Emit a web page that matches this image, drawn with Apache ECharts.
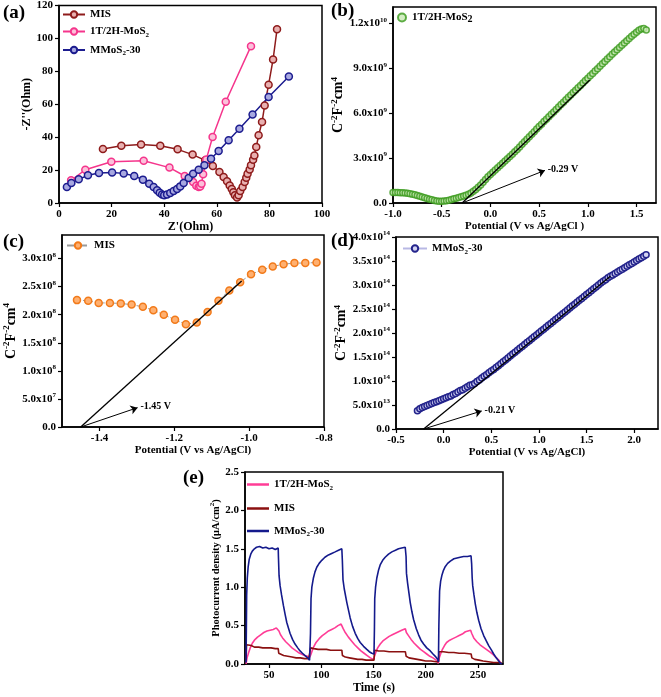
<!DOCTYPE html>
<html><head><meta charset="utf-8">
<script src="https://cdn.jsdelivr.net/npm/echarts@6/dist/echarts.min.js"></script>
<style>html,body{margin:0;padding:0;background:#fff}#c{width:661px;height:697px}</style>
</head><body><div id="c"></div>
<script>
// ---------- (a) Nyquist plot ----------
const misZre = [16.7,23.7,31.2,38.5,45.1,50.8,55.6,58.5,61.0,62.6,63.9,64.9,65.7,66.3,66.9,67.7,68.3,68.9,69.8,70.6,71.2,71.7,72.5,73.0,73.8,74.3,75.0,75.9,77.2,78.2,79.7,81.4,82.9];
const misZim = [32.8,34.8,35.6,34.8,32.6,29.4,25.9,22.5,18.8,15.8,13.2,10.7,8.5,6.5,4.7,3.4,4.7,7.3,9.7,12.8,15.4,17.8,20.4,22.9,26.3,28.9,34.0,41.1,49.2,59.3,71.9,87.2,105.5];
const mos1Zre = [4.6,10.0,19.9,32.2,42.0,47.8,51.0,52.2,53.1,53.7,54.2,54.8,56.0,58.4,63.4,73.0];
const mos1Zim = [13.8,20.2,25.1,25.7,21.5,16.4,12.8,10.5,9.7,10.1,11.7,17.4,26.5,40.1,61.5,95.3];
const mm30Zre = [3.0,4.7,7.5,11.0,15.2,20.2,24.6,28.6,31.9,34.3,36.0,37.3,38.3,39.2,40.0,41.1,42.3,43.6,44.9,46.1,47.4,49.3,51.0,53.1,55.3,57.8,60.7,64.5,68.6,73.6,79.7,87.4];
const mm30Zim = [9.7,12.1,14.4,16.8,18.2,18.6,18.0,16.4,14.2,11.7,9.7,7.7,6.3,5.1,4.7,5.1,6.1,7.3,8.5,10.1,12.1,15.2,17.8,20.2,22.9,26.9,31.6,38.1,45.1,53.8,64.4,76.9];
const aTicks = [0,20,40,60,80,100];
const aYTicks = [0,20,40,60,80,100,120];

// ---------- (b) Mott-Schottky 1T/2H-MoS2 (values x1e9) ----------
const bPot = [-1.000,-0.975,-0.950,-0.925,-0.900,-0.875,-0.850,-0.825,-0.800,-0.775,-0.750,-0.725,-0.700,-0.675,-0.650,-0.625,-0.600,-0.575,-0.550,-0.525,-0.500,-0.475,-0.450,-0.425,-0.400,-0.375,-0.350,-0.325,-0.300,-0.275,-0.250,-0.225,-0.200,-0.175,-0.150,-0.125,-0.100,-0.075,-0.050,-0.025,0.000,0.025,0.050,0.075,0.100,0.125,0.150,0.175,0.200,0.225,0.250,0.275,0.300,0.325,0.350,0.375,0.400,0.425,0.450,0.475,0.500,0.525,0.550,0.575,0.600,0.625,0.650,0.675,0.700,0.725,0.750,0.775,0.800,0.825,0.850,0.875,0.900,0.925,0.950,0.975,1.000,1.025,1.050,1.075,1.100,1.125,1.150,1.175,1.200,1.225,1.250,1.275,1.300,1.325,1.350,1.375,1.400,1.425,1.450,1.475,1.500,1.525,1.550,1.575,1.600];
const bCsc = [0.70,0.70,0.70,0.69,0.68,0.67,0.65,0.62,0.59,0.55,0.50,0.45,0.40,0.35,0.30,0.25,0.21,0.17,0.14,0.12,
0.12,0.13,0.15,0.19,0.23,0.28,0.32,0.37,0.42,0.46,
0.51,0.58,0.67,0.78,0.91,1.05,1.21,1.39,1.57,1.75,
1.90,2.05,2.20,2.35,2.50,2.65,2.80,2.95,3.10,3.26,
3.42,3.58,3.75,3.92,4.09,4.26,4.43,4.60,4.77,4.94,
5.11,5.27,5.44,5.60,5.77,5.93,6.09,6.25,6.42,6.58,
6.74,6.90,7.06,7.22,7.38,7.54,7.70,7.86,8.02,8.18,
8.34,8.50,8.66,8.82,8.98,9.14,9.30,9.46,9.62,9.78,
9.95,10.10,10.25,10.40,10.55,10.70,10.85,11.00,11.14,11.28,
11.42,11.54,11.63,11.67,11.56];
const bFitPot = [-0.29, 1.02];
const bFitCsc = [0, 8.22];
const bArrow = [[-0.29, 0], [0.56, 2.18]];
const bXTicks = [-1.0,-0.5,0.0,0.5,1.0,1.5];
const bYTicks = [0, 3e9, 6e9, 9e9, 1.2e10];

// ---------- (c) Mott-Schottky MIS (values x1e8) ----------
const cPot = [-1.460,-1.430,-1.402,-1.372,-1.343,-1.314,-1.284,-1.256,-1.228,-1.198,-1.169,-1.140,-1.111,-1.082,-1.053,-1.024,-0.995,-0.965,-0.937,-0.908,-0.879,-0.850,-0.820];
const cCsc = [2.26,2.25,2.21,2.21,2.20,2.18,2.14,2.08,2.00,1.91,1.83,1.86,2.05,2.25,2.43,2.58,2.72,2.80,2.86,2.90,2.92,2.92,2.93];
const cFitPot = [-1.45, -1.02];
const cFitCsc = [0, 2.60];
const cArrow = [[-1.45, 0], [-1.298, 0.345]];
const cXTicks = [-1.4,-1.2,-1.0,-0.8];
const cYTicks = [0,5e7,1e8,1.5e8,2e8,2.5e8,3e8];

// ---------- (d) Mott-Schottky MMoS2-30 (values x1e14) ----------
const dPot = [-0.275,-0.250,-0.225,-0.200,-0.175,-0.150,-0.125,-0.100,-0.075,-0.050,-0.025,0.000,0.025,0.050,0.075,0.100,0.125,0.150,0.175,0.200,0.225,0.250,0.275,0.300,0.325,0.350,0.375,0.400,0.425,0.450,0.475,0.500,0.525,0.550,0.575,0.600,0.625,0.650,0.675,0.700,0.725,0.750,0.775,0.800,0.825,0.850,0.875,0.900,0.925,0.950,0.975,1.000,1.025,1.050,1.075,1.100,1.125,1.150,1.175,1.200,1.225,1.250,1.275,1.300,1.325,1.350,1.375,1.400,1.425,1.450,1.475,1.500,1.525,1.550,1.575,1.600,1.625,1.650,1.675,1.700,1.725,1.750,1.775,1.800,1.825,1.850,1.875,1.900,1.925,1.950,1.975,2.000,2.025,2.050,2.075,2.100,2.125];
const dCsc = [0.38,0.42,0.45,0.47,0.49,0.51,0.53,0.55,0.57,0.59,
0.61,0.63,0.65,0.67,0.69,0.72,0.74,0.77,0.80,0.82,
0.85,0.88,0.91,0.92,0.95,0.99,1.02,1.06,1.10,1.13,
1.17,1.21,1.24,1.28,1.32,1.36,1.40,1.44,1.48,1.52,
1.56,1.60,1.64,1.68,1.72,1.76,1.80,1.84,1.88,1.92,
1.96,2.00,2.04,2.08,2.12,2.16,2.20,2.24,2.28,2.32,
2.36,2.40,2.44,2.48,2.52,2.56,2.60,2.64,2.68,2.72,
2.76,2.80,2.84,2.88,2.92,2.96,3.00,3.04,3.08,3.11,
3.15,3.18,3.21,3.24,3.27,3.30,3.33,3.36,3.39,3.42,
3.45,3.48,3.51,3.54,3.57,3.60,3.63];
const dFitPot = [-0.21, 1.75];
const dFitCsc = [0, 3.18];
const dArrow = [[-0.21, 0], [0.40, 0.376]];
const dXTicks = [-0.5,0.0,0.5,1.0,1.5,2.0];
const dYTicks = [0,5e13,1e14,1.5e14,2e14,2.5e14,3e14,3.5e14,4e14];

// ---------- (e) Photocurrent ----------
const eMMTime = [28.0,28.3,28.6,29.2,30.0,31.0,32.5,34.0,36.0,38.0,41.0,44.0,47.0,50.0,53.0,56.0,58.8,59.0,59.6,60.6,62.0,63.8,65.5,67.0,70.1,72.5,74.9,77.5,79.7,82.0,84.5,87.0,88.8,89.3,89.7,90.2,91.0,92.5,94.0,95.7,98.0,100.5,103.5,106.9,110.0,113.3,116.5,119.7,120.2,120.8,122.0,124.5,127.7,130.0,132.5,135.0,137.3,140.5,143.6,146.0,148.4,150.5,150.9,151.2,152.0,153.2,154.8,156.4,158.8,161.2,164.4,167.6,171.0,174.0,177.0,180.4,181.2,181.6,182.6,184.0,185.2,186.8,188.4,191.0,193.2,195.5,198.0,201.0,204.4,207.0,209.2,211.4,212.2,212.6,213.3,214.3,215.6,217.0,218.8,221.0,223.6,227.0,230.0,233.0,236.3,240.0,243.4,244.0,244.5,245.0,246.2,247.5,249.0,250.7,253.0,255.5,258.0,260.3,263.0,265.1,267.5,269.9,271.5,273.0];
const eMMCur = [0.02,0.45,0.90,1.12,1.26,1.36,1.43,1.47,1.50,1.52,1.53,1.51,1.52,1.50,1.51,1.49,1.51,1.40,1.15,1.02,0.90,0.76,0.64,0.54,0.40,0.32,0.26,0.21,0.17,0.14,0.11,0.08,0.05,0.04,0.40,0.85,1.00,1.12,1.20,1.26,1.31,1.35,1.39,1.42,1.44,1.46,1.48,1.50,1.35,1.10,0.98,0.80,0.60,0.49,0.40,0.33,0.28,0.23,0.19,0.16,0.14,0.13,0.45,0.85,1.00,1.12,1.22,1.29,1.35,1.39,1.43,1.46,1.48,1.50,1.51,1.52,1.40,1.18,1.06,0.92,0.80,0.68,0.58,0.46,0.38,0.31,0.26,0.21,0.17,0.13,0.10,0.06,0.03,0.50,0.95,1.08,1.16,1.22,1.27,1.31,1.34,1.37,1.38,1.39,1.40,1.40,1.41,1.30,1.12,1.02,0.90,0.78,0.67,0.57,0.46,0.37,0.30,0.24,0.18,0.13,0.08,0.04,0.01,0.00];
const eMoTime = [28.0,29.0,30.5,32.0,34.0,36.0,39.0,42.0,45.0,48.0,51.0,54.0,57.0,58.6,59.5,61.0,63.0,66.0,69.0,72.0,75.0,78.0,81.0,84.0,87.0,89.0,90.0,91.5,93.0,95.0,98.0,101.0,104.0,107.0,110.0,113.0,116.0,119.0,120.0,121.0,123.0,126.0,129.0,132.0,135.0,138.0,141.0,144.0,147.0,150.0,151.0,152.5,154.0,156.5,159.0,162.0,165.0,168.0,171.0,174.0,177.0,180.5,181.5,183.5,186.0,189.0,192.0,195.0,198.0,201.0,204.0,207.0,210.0,212.0,213.0,214.5,216.0,218.0,220.0,223.0,226.0,229.0,232.0,235.0,238.0,243.0,244.0,246.0,249.0,252.0,255.0,258.0,261.0,264.0,267.0,270.0,272.5];
const eMoCur = [0.00,0.08,0.15,0.21,0.27,0.31,0.35,0.38,0.41,0.43,0.44,0.45,0.47,0.48,0.43,0.38,0.34,0.29,0.25,0.21,0.18,0.15,0.13,0.11,0.10,0.09,0.12,0.18,0.23,0.28,0.33,0.37,0.40,0.43,0.45,0.47,0.50,0.52,0.53,0.46,0.41,0.35,0.30,0.25,0.21,0.17,0.14,0.11,0.08,0.06,0.10,0.16,0.21,0.26,0.30,0.33,0.36,0.38,0.40,0.42,0.44,0.46,0.41,0.37,0.32,0.27,0.23,0.19,0.16,0.13,0.10,0.08,0.05,0.01,0.08,0.14,0.19,0.24,0.28,0.31,0.33,0.35,0.37,0.39,0.42,0.44,0.40,0.34,0.29,0.25,0.22,0.19,0.16,0.13,0.09,0.05,0.00];
const eMisTime = [28.0,28.5,30.0,33.0,36.0,40.0,44.0,48.0,52.0,56.0,58.8,59.3,61.0,64.0,68.0,72.0,76.0,80.0,84.0,88.0,89.3,89.8,93.0,97.0,101.0,105.0,109.0,113.0,117.0,119.7,120.3,123.0,127.0,131.0,135.0,139.0,143.0,147.0,150.5,151.0,155.0,160.0,165.0,170.0,175.0,180.5,181.3,184.0,188.0,192.0,196.0,200.0,205.0,210.0,212.2,212.7,217.0,222.0,227.0,232.0,237.0,243.5,244.2,247.0,251.0,255.0,260.0,265.0,270.0,273.0];
const eMisCur = [0.05,0.25,0.23,0.24,0.22,0.22,0.21,0.21,0.21,0.20,0.20,0.14,0.12,0.11,0.10,0.09,0.08,0.08,0.07,0.07,0.06,0.21,0.20,0.19,0.19,0.19,0.18,0.18,0.18,0.18,0.11,0.09,0.08,0.07,0.06,0.06,0.05,0.05,0.05,0.18,0.17,0.17,0.16,0.16,0.16,0.16,0.10,0.08,0.07,0.06,0.05,0.04,0.04,0.03,0.03,0.16,0.16,0.15,0.15,0.14,0.14,0.13,0.08,0.06,0.05,0.04,0.03,0.02,0.02,0.01];
const eXTicks = [50,100,150,200,250];
const eYTicks = [0,0.5,1.0,1.5,2.0,2.5];

// ---------- helpers ----------
const F = '"Liberation Serif","Times New Roman",serif';
const zip = (xs, ys, k) => xs.map((x, i) => [x, ys[i] * (k || 1)]);
const sup = {fontFamily:F,fontWeight:'bold',fontSize:7,color:'#000',verticalAlign:'top'};
const base = {fontFamily:F,fontWeight:'bold',fontSize:11,color:'#000',lineHeight:14};
function sci(v){
  if (v === 0) return '{m|0.0}';
  const e = Math.floor(Math.log10(v) + 1e-9);
  const m = v / Math.pow(10, e);
  return '{m|' + m.toFixed(1) + 'x10}{e|' + e + '}';
}
const nameRich = {
  n:{fontFamily:F,fontWeight:'bold',fontSize:14,color:'#000',lineHeight:18},
  s:{fontFamily:F,fontWeight:'bold',fontSize:9,color:'#000',verticalAlign:'top'}
};
const nameRichSmall = {
  n:{fontFamily:F,fontWeight:'bold',fontSize:10.5,color:'#000',lineHeight:14},
  s:{fontFamily:F,fontWeight:'bold',fontSize:7,color:'#000',verticalAlign:'top'}
};
const cscName = '{n|C}{s|-2}{n|F}{s|-2}{n|cm}{s|4}';

function axis(gi, min, max, ticks, fmt, name, gap, nameSize, rich) {
  return {
    type:'value', gridIndex:gi, min:min, max:max,
    name:name, nameLocation:'middle', nameGap:gap,
    nameTextStyle:{fontFamily:F,fontWeight:'bold',fontSize:nameSize||12,color:'#000',rich:rich||nameRich},
    axisLine:{show:true,onZero:false,lineStyle:{color:'#000',width:1.5}},
    axisTick:{show:true,inside:false,length:4,customValues:ticks,lineStyle:{color:'#000',width:1.2}},
    axisLabel:{show:true,customValues:ticks,formatter:fmt,margin:6,
      fontFamily:F,fontWeight:'bold',fontSize:11,color:'#000',
      rich:{m:base,e:sup}},
    splitLine:{show:false}, minorTick:{show:false}
  };
}
const f1 = v => v.toFixed(1);
const f0 = v => String(Math.round(v));

const legendText = {
  'a-MIS':'{t|MIS}', 'a-1T':'{t|1T/2H-MoS}{b|2}', 'a-MM':'{t|MMoS}{b|2}{t|-30}',
  'b-1T':'{t|1T/2H-MoS}{c|2}', 'c-MIS':'{t|MIS}', 'd-MM':'{t|MMoS}{b|2}{t|-30}',
  'e-1T':'{t|1T/2H-MoS}{b|2}', 'e-MIS':'{t|MIS}', 'e-MM':'{t|MMoS}{b|2}{t|-30}'
};
const legRich = {
  t:{fontFamily:F,fontWeight:'bold',fontSize:11,color:'#000',lineHeight:14},
  b:{fontFamily:F,fontWeight:'bold',fontSize:7,color:'#000',verticalAlign:'bottom'},
  c:{fontFamily:F,fontWeight:'bold',fontSize:10,color:'#000',verticalAlign:'bottom'}
};
function leg(data, left, top, w, h, gap, icon) {
  const l = {data:data, left:left, top:top, orient:'vertical', itemWidth:w, itemHeight:h, itemGap:gap,
    formatter:n => legendText[n], textStyle:{rich:legRich}, padding:0, selectedMode:false};
  if (icon) l.icon = icon;
  return l;
}
function ring(color, fill, size){
  return {symbol:'circle', symbolSize:size, itemStyle:{color:fill, borderColor:color, borderWidth:1.5}};
}
function fitSeries(xi, yi, xs, ys, k, arrow, text){
  return {type:'line', xAxisIndex:xi, yAxisIndex:yi, data:zip(xs, ys, k), symbol:'none',
    lineStyle:{color:'#000',width:1.3}, z:5, silent:true,
    markLine:{silent:true, symbol:['none','arrow'], symbolSize:7, animation:false,
      lineStyle:{color:'#000',width:1,type:'solid'},
      label:{show:true, position:'end', formatter:text, fontFamily:F, fontWeight:'bold', fontSize:10, color:'#000', distance:3},
      data:[[{coord:[arrow[0][0], arrow[0][1]*k]}, {coord:[arrow[1][0], arrow[1][1]*k]}]]}};
}

const gridStyle = {show:true, borderColor:'#000', borderWidth:1.5, backgroundColor:'transparent'};
const option = {
  animation:false,
  backgroundColor:'#fff',
  grid:[
    Object.assign({left:59, top:5, width:263, height:198}, gridStyle),
    Object.assign({left:393, top:7, width:263, height:196}, gridStyle),
    Object.assign({left:62, top:235, width:262, height:192}, gridStyle),
    Object.assign({left:396, top:237, width:262, height:192}, gridStyle),
    Object.assign({left:245, top:472, width:258, height:192}, gridStyle)
  ],
  xAxis:[
    axis(0,0,100,aTicks,f0,"Z'(Ohm)",13,12),
    axis(1,-1.0,1.7,bXTicks,f1,'Potential (V vs Ag/AgCl )',13,11),
    axis(2,-1.5,-0.8,cXTicks,f1,'Potential (V vs Ag/AgCl)',15,11),
    axis(3,-0.5,2.25,dXTicks,f1,'Potential (V vs Ag/AgCl)',12,11),
    axis(4,27,274,eXTicks,f0,'Time (s)',18,12)
  ],
  yAxis:[
    axis(0,0,120,aYTicks,f0,"-Z''(Ohm)",16,12),
    axis(1,0,1.31e10,bYTicks,sci,cscName,36,14),
    axis(2,0,3.42e8,cYTicks,sci,cscName,42,14),
    axis(3,0,4e14,dYTicks,sci,cscName,43,14),
    axis(4,0,2.5,eYTicks,f1,'{n|Photocurrent density (μA/cm}{s|2}{n|)}',21,10.5,nameRichSmall)
  ],
  legend:[
    leg(['a-MIS','a-1T','a-MM'], 62, 9, 22, 8, 6),
    leg(['b-1T'], 397, 12, 10, 8, 6),
    leg(['c-MIS'], 66, 240, 22, 8, 6),
    leg(['d-MM'], 402, 243, 24, 8, 6),
    leg(['e-1T','e-MIS','e-MM'], 247, 479, 22, 2.5, 11.5, 'rect')
  ],
  series:[
    Object.assign({name:'a-MIS', type:'line', xAxisIndex:0, yAxisIndex:0, data:zip(misZre, misZim),
      lineStyle:{color:'#8e1b1b', width:1.5}}, ring('#8e1b1b','#e8b0b0',7)),
    Object.assign({name:'a-1T', type:'line', xAxisIndex:0, yAxisIndex:0, data:zip(mos1Zre, mos1Zim),
      lineStyle:{color:'#f5358c', width:1.5}}, ring('#f5358c','#fbc0da',7)),
    Object.assign({name:'a-MM', type:'line', xAxisIndex:0, yAxisIndex:0, data:zip(mm30Zre, mm30Zim),
      lineStyle:{color:'#1c1c8f', width:1.5}}, ring('#1c1c8f','#a8a8e0',7)),

    Object.assign({name:'b-1T', type:'scatter', xAxisIndex:1, yAxisIndex:1, data:zip(bPot, bCsc, 1e9)},
      ring('#3a9a1c','#c8e8b4',6)),
    fitSeries(1, 1, bFitPot, bFitCsc, 1e9, bArrow, '-0.29 V'),

    Object.assign({name:'c-MIS', type:'line', xAxisIndex:2, yAxisIndex:2, data:zip(cPot, cCsc, 1e8),
      lineStyle:{color:'#9a9a9a', width:1, type:'dashed'}}, ring('#f27a1a','#ffb070',7)),
    fitSeries(2, 2, cFitPot, cFitCsc, 1e8, cArrow, '-1.45 V'),

    Object.assign({name:'d-MM', type:'line', xAxisIndex:3, yAxisIndex:3, data:zip(dPot, dCsc, 1e14),
      lineStyle:{color:'#b8b8e4', width:1}}, ring('#24248c','#d4d4f2',6)),
    fitSeries(3, 3, dFitPot, dFitCsc, 1e14, dArrow, '-0.21 V'),

    {name:'e-1T', type:'line', xAxisIndex:4, yAxisIndex:4, data:zip(eMoTime, eMoCur), symbol:'none',
      lineStyle:{color:'#ff3c96', width:1.6}, itemStyle:{color:'#ff3c96'}},
    {name:'e-MIS', type:'line', xAxisIndex:4, yAxisIndex:4, data:zip(eMisTime, eMisCur), symbol:'none',
      lineStyle:{color:'#8b1010', width:1.6}, itemStyle:{color:'#8b1010'}},
    {name:'e-MM', type:'line', xAxisIndex:4, yAxisIndex:4, data:zip(eMMTime, eMMCur), symbol:'none',
      lineStyle:{color:'#141a8c', width:1.6}, itemStyle:{color:'#141a8c'}}
  ],
  graphic:[
    {type:'text', left:3, top:4, style:{text:'(a)', font:'bold 19px '+F, fill:'#000'}},
    {type:'text', left:331, top:2, style:{text:'(b)', font:'bold 19px '+F, fill:'#000'}},
    {type:'text', left:3, top:233, style:{text:'(c)', font:'bold 19px '+F, fill:'#000'}},
    {type:'text', left:331, top:232, style:{text:'(d)', font:'bold 19px '+F, fill:'#000'}},
    {type:'text', left:183, top:469, style:{text:'(e)', font:'bold 19px '+F, fill:'#000'}}
  ]
};
const chart = echarts.init(document.getElementById('c'), null, {renderer:'canvas'});
chart.setOption(option);
</script></body></html>
